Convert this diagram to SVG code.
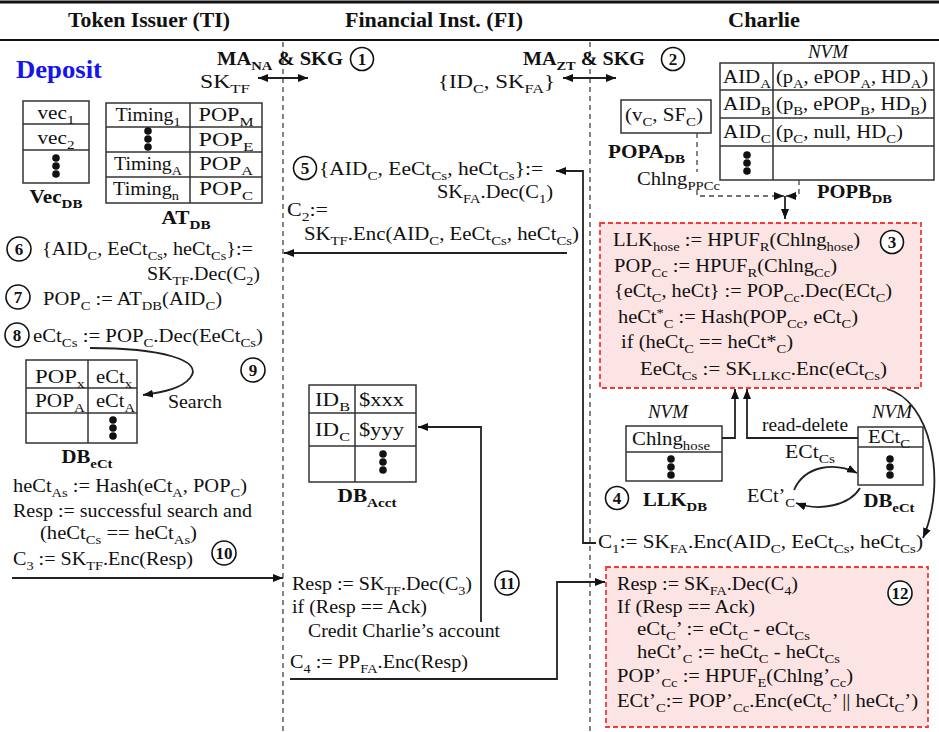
<svg xmlns="http://www.w3.org/2000/svg" width="939" height="732" viewBox="0 0 939 732">
<style>
text{font-family:"Liberation Serif","Times New Roman",serif;font-size:19px;fill:#111}
.h{font-weight:bold;font-size:21px;text-anchor:middle}
.b{font-weight:bold}
.i{font-style:italic}
.c{text-anchor:middle}
.s{font-size:13.5px;baseline-shift:-4.5px}
.u{font-size:13.5px;baseline-shift:6px}
.n{font-weight:bold;font-size:17px;text-anchor:middle}
.tbl{fill:none;stroke:#333;stroke-width:1.5}
.dash{fill:none;stroke:#444;stroke-width:1.3;stroke-dasharray:5,4}
.ln{fill:none;stroke:#222;stroke-width:1.8}
.box{fill:#fde4e4;stroke:#f23a3a;stroke-width:1.8;stroke-dasharray:5,3}
.circ{fill:#fff;stroke:#111;stroke-width:1.6}
.dep{font-weight:bold;font-size:26px;fill:#1414ee}
</style>
<defs>
<marker id="a" viewBox="0 0 10 8" refX="10" refY="4" markerWidth="10" markerHeight="8" markerUnits="userSpaceOnUse" orient="auto-start-reverse"><path d="M0,0 L10,4 L0,8 z" fill="#111"/></marker>
<g id="dots" fill="#111"><circle cx="0" cy="-8" r="3.8"/><circle cx="0" cy="0" r="3.8"/><circle cx="0" cy="8" r="3.8"/></g>
</defs>
<rect width="939" height="732" fill="#fff"/>

<g id="header">
<line x1="0" y1="2" x2="939" y2="2" stroke="#111" stroke-width="3"/>
<line x1="0" y1="40" x2="939" y2="40" stroke="#111" stroke-width="2"/>
<text class="h" x="149" y="27" textLength="162" lengthAdjust="spacingAndGlyphs">Token Issuer (TI)</text>
<text class="h" x="434" y="27" textLength="178" lengthAdjust="spacingAndGlyphs">Financial Inst. (FI)</text>
<text class="h" x="764" y="27" textLength="72" lengthAdjust="spacingAndGlyphs">Charlie</text>
</g>

<g id="lanes">
<line class="dash" x1="283" y1="42" x2="283" y2="732"/>
<line class="dash" x1="590" y1="42" x2="590" y2="732"/>
</g>

<text class="dep" x="16" y="78" textLength="86" lengthAdjust="spacingAndGlyphs">Deposit</text>

<g id="step1">
<text class="b" x="217" y="65" textLength="126" lengthAdjust="spacingAndGlyphs">MA<tspan class="s">NA</tspan> &amp; SKG</text>
<circle class="circ" cx="362" cy="59" r="11.5"/><text class="n" x="362" y="65">1</text>
<text x="200" y="88" textLength="50" lengthAdjust="spacingAndGlyphs">SK<tspan class="s">TF</tspan></text>
</g>

<g id="step2">
<text class="b" x="523" y="65" textLength="122" lengthAdjust="spacingAndGlyphs">MA<tspan class="s">ZT</tspan> &amp; SKG</text>
<circle class="circ" cx="673" cy="59" r="11.5"/><text class="n" x="673" y="65">2</text>
<text x="438" y="88" textLength="117" lengthAdjust="spacingAndGlyphs">{ID<tspan class="s">C</tspan>, SK<tspan class="s">FA</tspan>}</text>
</g>

<g id="vecdb">
<rect class="tbl" x="23" y="101" width="66" height="82"/>
<line class="tbl" x1="23" y1="124" x2="89" y2="124"/>
<line class="tbl" x1="23" y1="150" x2="89" y2="150"/>
<text class="c" x="56" y="119" textLength="37" lengthAdjust="spacingAndGlyphs">vec<tspan class="s">1</tspan></text>
<text class="c" x="56" y="144" textLength="37" lengthAdjust="spacingAndGlyphs">vec<tspan class="s">2</tspan></text>
<use href="#dots" x="56" y="166"/>
<text class="b c" x="56" y="203" textLength="53" lengthAdjust="spacingAndGlyphs">Vec<tspan class="s">DB</tspan></text>
</g>

<g id="atdb">
<rect class="tbl" x="106" y="103" width="156" height="100"/>
<line class="tbl" x1="106" y1="127" x2="262" y2="127"/>
<line class="tbl" x1="106" y1="152" x2="262" y2="152"/>
<line class="tbl" x1="106" y1="177" x2="262" y2="177"/>
<line class="tbl" x1="190" y1="103" x2="190" y2="203"/>
<text class="c" x="148" y="121" textLength="65" lengthAdjust="spacingAndGlyphs">Timing<tspan class="s">1</tspan></text>
<text class="c" x="226" y="121" textLength="55" lengthAdjust="spacingAndGlyphs">POP<tspan class="s">M</tspan></text>
<use href="#dots" x="148" y="139"/>
<text class="c" x="226" y="146" textLength="55" lengthAdjust="spacingAndGlyphs">POP<tspan class="s">E</tspan></text>
<text class="c" x="148" y="170" textLength="68" lengthAdjust="spacingAndGlyphs">Timing<tspan class="s">A</tspan></text>
<text class="c" x="226" y="170" textLength="54" lengthAdjust="spacingAndGlyphs">POP<tspan class="s">A</tspan></text>
<text class="c" x="146" y="195" textLength="66" lengthAdjust="spacingAndGlyphs">Timing<tspan class="s">n</tspan></text>
<text class="c" x="226" y="195" textLength="54" lengthAdjust="spacingAndGlyphs">POP<tspan class="s">C</tspan></text>
<text class="b c" x="186" y="224" textLength="49" lengthAdjust="spacingAndGlyphs">AT<tspan class="s">DB</tspan></text>
</g>

<g id="popadb">
<rect class="tbl" x="621" y="100" width="90" height="33"/>
<text x="625" y="121" textLength="78" lengthAdjust="spacingAndGlyphs">(v<tspan class="s">C</tspan>, SF<tspan class="s">C</tspan>)</text>
<text class="b" x="608" y="158" textLength="77" lengthAdjust="spacingAndGlyphs">POPA<tspan class="s">DB</tspan></text>
<text x="637" y="185" textLength="83" lengthAdjust="spacingAndGlyphs">Chlng<tspan class="s">PPCc</tspan></text>
</g>

<g id="popbdb">
<text class="i c" x="828" y="58">NVM</text>
<rect class="tbl" x="720" y="63" width="214" height="117"/>
<line class="tbl" x1="720" y1="90" x2="934" y2="90"/>
<line class="tbl" x1="720" y1="118" x2="934" y2="118"/>
<line class="tbl" x1="720" y1="146" x2="934" y2="146"/>
<line class="tbl" x1="773" y1="63" x2="773" y2="180"/>
<text x="723" y="83" textLength="48" lengthAdjust="spacingAndGlyphs">AID<tspan class="s">A</tspan></text>
<text x="776" y="83" textLength="152" lengthAdjust="spacingAndGlyphs">(p<tspan class="s">A</tspan>, ePOP<tspan class="s">A</tspan>, HD<tspan class="s">A</tspan>)</text>
<text x="723" y="110" textLength="48" lengthAdjust="spacingAndGlyphs">AID<tspan class="s">B</tspan></text>
<text x="776" y="110" textLength="151" lengthAdjust="spacingAndGlyphs">(p<tspan class="s">B</tspan>, ePOP<tspan class="s">B</tspan>, HD<tspan class="s">B</tspan>)</text>
<text x="723" y="138" textLength="48" lengthAdjust="spacingAndGlyphs">AID<tspan class="s">C</tspan></text>
<text x="776" y="138" textLength="127" lengthAdjust="spacingAndGlyphs">(p<tspan class="s">C</tspan>, null, HD<tspan class="s">C</tspan>)</text>
<use href="#dots" x="747" y="163"/>
<text class="b" x="817" y="198" textLength="75" lengthAdjust="spacingAndGlyphs">POPB<tspan class="s">DB</tspan></text>
</g>

<g id="step3">
<rect class="box" x="600" y="223" width="321" height="165"/>
<text x="613" y="246" textLength="247" lengthAdjust="spacingAndGlyphs">LLK<tspan class="s">hose</tspan> := HPUF<tspan class="s">R</tspan>(Chlng<tspan class="s">hose</tspan>)</text>
<text x="614" y="272" textLength="223" lengthAdjust="spacingAndGlyphs">POP<tspan class="s">Cc</tspan> := HPUF<tspan class="s">R</tspan>(Chlng<tspan class="s">Cc</tspan>)</text>
<text x="614" y="297" textLength="278" lengthAdjust="spacingAndGlyphs">{eCt<tspan class="s">C</tspan>, heCt} := POP<tspan class="s">Cc</tspan>.Dec(ECt<tspan class="s">C</tspan>)</text>
<text x="618" y="323" textLength="240" lengthAdjust="spacingAndGlyphs">heCt<tspan class="u">*</tspan><tspan class="s">C</tspan> := Hash(POP<tspan class="s">Cc</tspan>, eCt<tspan class="s">C</tspan>)</text>
<text x="621" y="348" textLength="172" lengthAdjust="spacingAndGlyphs">if (heCt<tspan class="s">C</tspan> == heCt*<tspan class="s">C</tspan>)</text>
<text x="640" y="375" textLength="247" lengthAdjust="spacingAndGlyphs">EeCt<tspan class="s">Cs</tspan> := SK<tspan class="s">LLKC</tspan>.Enc(eCt<tspan class="s">Cs</tspan>)</text>
<circle class="circ" cx="892" cy="242" r="11.5"/><text class="n" x="892" y="248">3</text>
</g>

<g id="llkdb">
<text class="i c" x="668" y="418">NVM</text>
<rect class="tbl" x="626" y="426" width="96" height="55"/>
<line class="tbl" x1="626" y1="452" x2="722" y2="452"/>
<text x="632" y="445" textLength="78" lengthAdjust="spacingAndGlyphs">Chlng<tspan class="s">hose</tspan></text>
<use href="#dots" x="671" y="467"/>
<text class="b c" x="675" y="506" textLength="64" lengthAdjust="spacingAndGlyphs">LLK<tspan class="s">DB</tspan></text>
</g>

<g id="step4">
<circle class="circ" cx="617" cy="498" r="11.5"/><text class="n" x="617" y="504">4</text>
</g>

<g id="dbect-charlie">
<text class="i c" x="892" y="418">NVM</text>
<rect class="tbl" x="858" y="427" width="65" height="58"/>
<line class="tbl" x1="858" y1="447" x2="923" y2="447"/>
<text x="868" y="443" textLength="42" lengthAdjust="spacingAndGlyphs">ECt<tspan class="s">C</tspan></text>
<use href="#dots" x="890" y="467"/>
<text class="b c" x="889" y="507" textLength="51" lengthAdjust="spacingAndGlyphs">DB<tspan class="s">eCt</tspan></text>
<text x="747" y="502" textLength="48" lengthAdjust="spacingAndGlyphs">ECt’<tspan class="s">C</tspan></text>
</g>

<g id="labels-charlie">
<text x="762" y="431" textLength="86" lengthAdjust="spacingAndGlyphs">read-delete</text>
<text x="785" y="458" textLength="50" lengthAdjust="spacingAndGlyphs">ECt<tspan class="s">Cs</tspan></text>
<text x="598" y="548" textLength="325" lengthAdjust="spacingAndGlyphs">C<tspan class="s">1</tspan>:= SK<tspan class="s">FA</tspan>.Enc(AID<tspan class="s">C</tspan>, EeCt<tspan class="s">Cs</tspan>, heCt<tspan class="s">Cs</tspan>)</text>
</g>

<g id="step5">
<circle class="circ" cx="305" cy="168" r="11.5"/><text class="n" x="305" y="174">5</text>
<text x="319" y="175" textLength="224" lengthAdjust="spacingAndGlyphs">{AID<tspan class="s">C</tspan>, EeCt<tspan class="s">Cs</tspan>, heCt<tspan class="s">Cs</tspan>}:=</text>
<text x="437" y="198" textLength="116" lengthAdjust="spacingAndGlyphs">SK<tspan class="s">FA</tspan>.Dec(C<tspan class="s">1</tspan>)</text>
<text x="287" y="216" textLength="41" lengthAdjust="spacingAndGlyphs">C<tspan class="s">2</tspan>:=</text>
<text x="304" y="240" textLength="275" lengthAdjust="spacingAndGlyphs">SK<tspan class="s">TF</tspan>.Enc(AID<tspan class="s">C</tspan>, EeCt<tspan class="s">Cs</tspan>, heCt<tspan class="s">Cs</tspan>)</text>
</g>

<g id="step6">
<circle class="circ" cx="19" cy="249" r="12"/><text class="n" x="19" y="255">6</text>
<text x="42" y="255" textLength="211" lengthAdjust="spacingAndGlyphs">{AID<tspan class="s">C</tspan>, EeCt<tspan class="s">Cs</tspan>, heCt<tspan class="s">Cs</tspan>}:=</text>
<text x="147" y="280" textLength="113" lengthAdjust="spacingAndGlyphs">SK<tspan class="s">TF</tspan>.Dec(C<tspan class="s">2</tspan>)</text>
</g>

<g id="step7">
<circle class="circ" cx="18" cy="297" r="12"/><text class="n" x="18" y="303">7</text>
<text x="43" y="305" textLength="179" lengthAdjust="spacingAndGlyphs">POP<tspan class="s">C</tspan> := AT<tspan class="s">DB</tspan>(AID<tspan class="s">C</tspan>)</text>
</g>

<g id="step8">
<circle class="circ" cx="17" cy="335" r="12"/><text class="n" x="17" y="341">8</text>
<text x="33" y="342" textLength="230" lengthAdjust="spacingAndGlyphs">eCt<tspan class="s">Cs</tspan> := POP<tspan class="s">C</tspan>.Dec(EeCt<tspan class="s">Cs</tspan>)</text>
<text x="168" y="408" textLength="54" lengthAdjust="spacingAndGlyphs">Search</text>
</g>

<g id="step9">
<circle class="circ" cx="253" cy="370" r="12"/><text class="n" x="253" y="376">9</text>
</g>

<g id="dbect-ti">
<rect class="tbl" x="26" y="360" width="111" height="83"/>
<line class="tbl" x1="26" y1="388" x2="137" y2="388"/>
<line class="tbl" x1="26" y1="413" x2="137" y2="413"/>
<line class="tbl" x1="88" y1="360" x2="88" y2="443"/>
<text x="35" y="383" textLength="50" lengthAdjust="spacingAndGlyphs">POP<tspan class="s">x</tspan></text>
<text x="96" y="383" textLength="36" lengthAdjust="spacingAndGlyphs">eCt<tspan class="s">x</tspan></text>
<text x="35" y="407" textLength="50" lengthAdjust="spacingAndGlyphs">POP<tspan class="s">A</tspan></text>
<text x="96" y="407" textLength="39" lengthAdjust="spacingAndGlyphs">eCt<tspan class="s">A</tspan></text>
<use href="#dots" x="113" y="428"/>
<text class="b c" x="87" y="463" textLength="51" lengthAdjust="spacingAndGlyphs">DB<tspan class="s">eCt</tspan></text>
</g>

<g id="step10">
<text x="13" y="492" textLength="234" lengthAdjust="spacingAndGlyphs">heCt<tspan class="s">As</tspan> := Hash(eCt<tspan class="s">A</tspan>, POP<tspan class="s">C</tspan>)</text>
<text x="13" y="517" textLength="239" lengthAdjust="spacingAndGlyphs">Resp := successful search and</text>
<text x="40" y="539" textLength="157" lengthAdjust="spacingAndGlyphs">(heCt<tspan class="s">Cs</tspan> == heCt<tspan class="s">As</tspan>)</text>
<text x="13" y="565" textLength="180" lengthAdjust="spacingAndGlyphs">C<tspan class="s">3</tspan> := SK<tspan class="s">TF</tspan>.Enc(Resp)</text>
<circle class="circ" cx="224" cy="553" r="12"/><text class="n" x="224" y="559">10</text>
</g>

<g id="dbacct">
<rect class="tbl" x="309" y="385" width="107" height="97"/>
<line class="tbl" x1="309" y1="413" x2="416" y2="413"/>
<line class="tbl" x1="309" y1="446" x2="416" y2="446"/>
<line class="tbl" x1="355" y1="385" x2="355" y2="482"/>
<text x="315" y="406" textLength="35" lengthAdjust="spacingAndGlyphs">ID<tspan class="s">B</tspan></text>
<text x="359" y="406" textLength="45" lengthAdjust="spacingAndGlyphs">$xxx</text>
<text x="315" y="436" textLength="35" lengthAdjust="spacingAndGlyphs">ID<tspan class="s">C</tspan></text>
<text x="359" y="436" textLength="45" lengthAdjust="spacingAndGlyphs">$yyy</text>
<use href="#dots" x="383" y="462"/>
<text class="b c" x="367" y="502" textLength="59" lengthAdjust="spacingAndGlyphs">DB<tspan class="s">Acct</tspan></text>
</g>

<g id="step11">
<text x="292" y="590" textLength="180" lengthAdjust="spacingAndGlyphs">Resp := SK<tspan class="s">TF</tspan>.Dec(C<tspan class="s">3</tspan>)</text>
<text x="292" y="613" textLength="135" lengthAdjust="spacingAndGlyphs">if (Resp == Ack)</text>
<text x="308" y="637" textLength="192" lengthAdjust="spacingAndGlyphs">Credit Charlie’s account</text>
<text x="290" y="668" textLength="178" lengthAdjust="spacingAndGlyphs">C<tspan class="s">4</tspan> := PP<tspan class="s">FA</tspan>.Enc(Resp)</text>
<circle class="circ" cx="507" cy="583" r="12"/><text class="n" x="507" y="589">11</text>
</g>

<g id="step12">
<rect class="box" x="606" y="567" width="322" height="160"/>
<text x="617" y="590" textLength="181" lengthAdjust="spacingAndGlyphs">Resp := SK<tspan class="s">FA</tspan>.Dec(C<tspan class="s">4</tspan>)</text>
<text x="617" y="613" textLength="138" lengthAdjust="spacingAndGlyphs">If (Resp == Ack)</text>
<text x="637" y="635" textLength="173" lengthAdjust="spacingAndGlyphs">eCt<tspan class="s">C</tspan>’ := eCt<tspan class="s">C</tspan> - eCt<tspan class="s">Cs</tspan></text>
<text x="637" y="658" textLength="203" lengthAdjust="spacingAndGlyphs">heCt’<tspan class="s">C</tspan> := heCt<tspan class="s">C</tspan> - heCt<tspan class="s">Cs</tspan></text>
<text x="617" y="682" textLength="236" lengthAdjust="spacingAndGlyphs">POP’<tspan class="s">Cc</tspan> := HPUF<tspan class="s">E</tspan>(Chlng’<tspan class="s">Cc</tspan>)</text>
<text x="617" y="707" textLength="301" lengthAdjust="spacingAndGlyphs">ECt’<tspan class="s">C</tspan>:= POP’<tspan class="s">Cc</tspan>.Enc(eCt<tspan class="s">C</tspan>’ || heCt<tspan class="s">C</tspan>’)</text>
<circle class="circ" cx="900" cy="593" r="12"/><text class="n" x="900" y="599">12</text>
</g>

<g id="connectors">
<path class="ln" d="M258,78 H308" marker-start="url(#a)" marker-end="url(#a)"/>
<path class="ln" d="M563,78 H616" marker-start="url(#a)" marker-end="url(#a)"/>
<path class="dash" d="M697,133 V172"/>
<path class="dash" d="M697,190 V196 H784" marker-end="url(#a)"/>
<path class="dash" d="M799,180 V196 H786" marker-end="url(#a)"/>
<path class="ln" d="M785,196 V219" marker-end="url(#a)"/>
<path class="ln" d="M722,438 H735 V389" marker-end="url(#a)"/>
<path class="ln" d="M858,438 H747 V389" marker-end="url(#a)"/>
<path class="ln" d="M887,389 C930,400 948,480 923,538" marker-end="url(#a)"/>
<path class="ln" d="M794,490 C805,465 835,462 857,473" marker-end="url(#a)"/>
<path class="ln" d="M860,488 C850,505 820,512 796,503" marker-end="url(#a)"/>
<path class="ln" d="M596,543 H583 V171 H556" marker-end="url(#a)"/>
<path class="ln" d="M567,253 H284" marker-end="url(#a)"/>
<path class="ln" d="M90,348 C160,348 205,360 190,378 C182,388 165,392 143,395" marker-end="url(#a)"/>
<path class="ln" d="M12,578 H283" marker-end="url(#a)"/>
<path class="ln" d="M481,622 V427 H418" marker-end="url(#a)"/>
<path class="ln" d="M290,679 H557 V582 H605" marker-end="url(#a)"/>
</g>
</svg>
